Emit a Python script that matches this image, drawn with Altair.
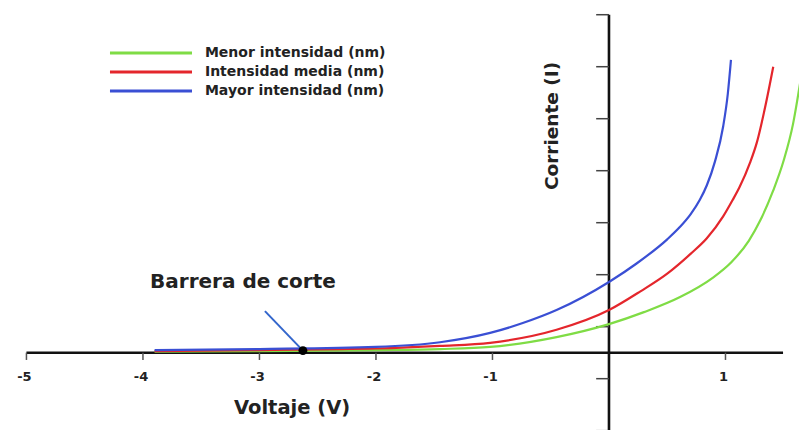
import altair as alt
import pandas as pd

# Curvas corriente-voltaje de la fotocelda para tres intensidades de luz
series = ["Menor intensidad (nm)", "Intensidad media (nm)", "Mayor intensidad (nm)"]
colores = ["#7fdc45", "#e4262c", "#3a4fd4"]

verde_v = [-3.9, -3.0, -2.0, -1.45, -1.02, -0.45, 0.0, 0.30, 0.61, 0.89, 1.05, 1.20, 1.30, 1.41, 1.50, 1.58, 1.64]
verde_i = [0.02, 0.03, 0.05, 0.07, 0.11, 0.30, 0.55, 0.78, 1.07, 1.44, 1.74, 2.15, 2.55, 3.12, 3.70, 4.40, 5.18]

rojo_v = [-3.9, -3.0, -2.0, -1.45, -1.02, -0.45, 0.0, 0.27, 0.50, 0.70, 0.84, 0.98, 1.06, 1.12, 1.21, 1.27, 1.34, 1.41]
rojo_i = [0.03, 0.05, 0.08, 0.13, 0.19, 0.44, 0.82, 1.18, 1.52, 1.90, 2.20, 2.62, 2.93, 3.18, 3.65, 4.05, 4.72, 5.50]

azul_v = [-3.9, -3.0, -2.0, -1.45, -1.02, -0.74, -0.45, 0.0, 0.24, 0.50, 0.61, 0.70, 0.78, 0.84, 0.91, 0.98, 1.02, 1.047]
azul_i = [0.05, 0.07, 0.11, 0.20, 0.38, 0.57, 0.82, 1.36, 1.72, 2.18, 2.42, 2.66, 2.94, 3.22, 3.68, 4.35, 4.98, 5.63]

# Ejes
x_ticks = [-5, -4, -3, -2, -1, 1]
y_ticks = [-1.5, -0.5, 0.5, 1.5, 2.5, 3.5, 4.5, 5.5, 6.5]

# Punto de la barrera de corte y su anotación
corte_v, corte_i = -2.627, 0.04
flecha_v, flecha_i = -2.953, 0.80
texto_corte_v, texto_corte_i = -3.142, 1.36

X_DOM = [-5.227, 1.631]
Y_DOM = [-1.487, 6.783]

xs = alt.Scale(domain=X_DOM, nice=False, zero=False)
ys = alt.Scale(domain=Y_DOM, nice=False, zero=False)
FONT = "DejaVu Sans"

filas = []
for nombre, vs, ics in zip(series, [verde_v, rojo_v, azul_v], [verde_i, rojo_i, azul_i]):
    for k, (v, i) in enumerate(zip(vs, ics)):
        filas.append({"serie": nombre, "v": v, "i": i, "k": k})
curvas_df = pd.DataFrame(filas)

color = alt.Color("serie:N", scale=alt.Scale(domain=series, range=colores), legend=None)

X = lambda f="v": alt.X(f"{f}:Q", scale=xs, axis=None)
Y = lambda f="i": alt.Y(f"{f}:Q", scale=ys, axis=None)

curvas = alt.Chart(curvas_df).mark_line(
    strokeWidth=2.2, interpolate="monotone", clip=True
).encode(x=X(), y=Y(), color=color, order="k:Q", detail="serie:N")

# Eje horizontal y vertical
eje_x = alt.Chart(pd.DataFrame({"v": [-5.0], "v2": [1.494], "i": [0.0]})).mark_rule(
    color="#111", strokeWidth=2.6
).encode(x=X(), x2="v2:Q", y=Y())

eje_y = alt.Chart(pd.DataFrame({"v": [0.0], "i": [6.5], "i2": [-1.6]})).mark_rule(
    color="#111", strokeWidth=2.6
).encode(x=X(), y=Y(), y2="i2:Q")

marcas_x = alt.Chart(pd.DataFrame({"v": x_ticks, "i": [0.0] * len(x_ticks), "i2": [-0.14] * len(x_ticks)})).mark_rule(
    color="#555", strokeWidth=1.5
).encode(x=X(), y=Y(), y2="i2:Q")

marcas_y = alt.Chart(pd.DataFrame({"i": y_ticks, "v": [-0.11] * len(y_ticks), "v2": [0.0] * len(y_ticks)})).mark_rule(
    color="#444", strokeWidth=1.5
).encode(x=X(), x2="v2:Q", y=Y())

etiquetas_x = alt.Chart(pd.DataFrame({"v": x_ticks, "i": [-0.47] * len(x_ticks), "t": [str(t) for t in x_ticks]})).mark_text(
    font=FONT, fontSize=13, fontWeight="bold", color="#222", baseline="middle", dx=-2
).encode(x=X(), y=Y(), text="t:N")

titulo_x = alt.Chart(pd.DataFrame({"v": [-2.72], "i": [-1.06], "t": ["Voltaje (V)"]})).mark_text(
    font=FONT, fontSize=19.5, fontWeight="bold", color="#222", baseline="middle"
).encode(x=X(), y=Y(), text="t:N")

titulo_y = alt.Chart(pd.DataFrame({"v": [-0.49], "i": [4.36], "t": ["Corriente (I)"]})).mark_text(
    font=FONT, fontSize=18.5, fontWeight="bold", color="#222", baseline="middle", angle=270
).encode(x=X(), y=Y(), text="t:N")

# Leyenda dibujada a mano en la esquina superior izquierda
ley_i = [5.763, 5.398, 5.033]
leyenda_lineas = alt.Chart(pd.DataFrame({
    "serie": series, "v": [-4.283] * 3, "v2": [-3.579] * 3, "i": ley_i
})).mark_rule(strokeWidth=3).encode(x=X(), x2="v2:Q", y=Y(), color=color)

leyenda_texto = alt.Chart(pd.DataFrame({
    "serie": series, "v": [-3.468] * 3, "i": ley_i
})).mark_text(
    font=FONT, fontSize=14, fontWeight="bold", color="#222", align="left", baseline="middle"
).encode(x=X(), y=Y(), text="serie:N")

flecha = alt.Chart(pd.DataFrame({"v": [flecha_v], "i": [flecha_i], "v2": [corte_v], "i2": [corte_i]})).mark_rule(
    color="#3366cc", strokeWidth=2
).encode(x=X(), y=Y(), x2="v2:Q", y2="i2:Q")

punto = alt.Chart(pd.DataFrame({"v": [corte_v], "i": [corte_i]})).mark_point(
    filled=True, color="#000", size=80, opacity=1
).encode(x=X(), y=Y())

texto_corte = alt.Chart(pd.DataFrame({"v": [texto_corte_v], "i": [texto_corte_i], "t": ["Barrera de corte"]})).mark_text(
    font=FONT, fontSize=20, fontWeight="bold", color="#222", baseline="middle"
).encode(x=X(), y=Y(), text="t:N")

chart = alt.layer(
    eje_x, eje_y, marcas_x, marcas_y, curvas, etiquetas_x, titulo_x, titulo_y,
    leyenda_lineas, leyenda_texto, flecha, punto, texto_corte
).properties(
    width=799, height=430, padding=0, autosize=alt.AutoSizeParams(type="none"),
    background="white"
).configure_view(stroke=None)

chart.save("out.html", embed_options={"renderer": "svg", "actions": False})
